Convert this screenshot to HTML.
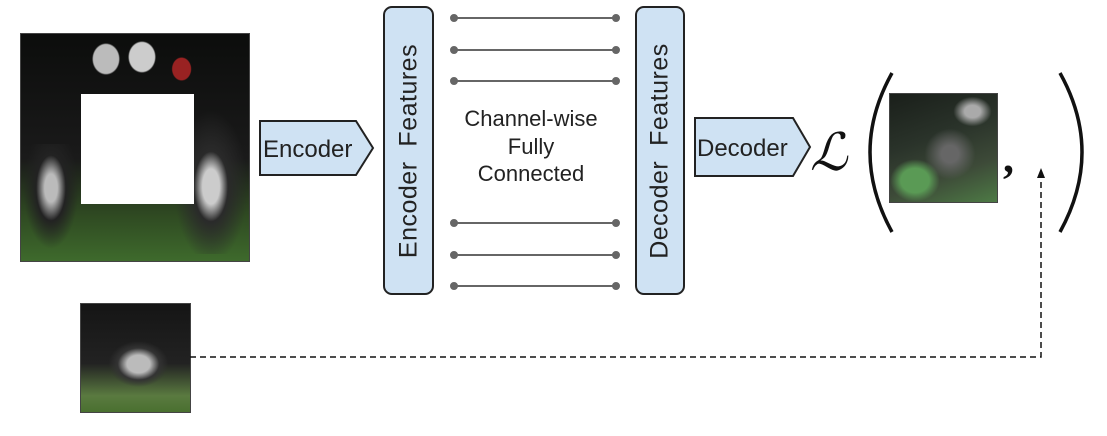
<!DOCTYPE html>
<html><head><style>
body{margin:0;background:#fff;width:1107px;height:436px;overflow:hidden;position:relative;font-family:"Liberation Sans",sans-serif}
.img{position:absolute;border:1px solid #444;overflow:hidden}
.fb{position:absolute;background:#cfe2f3;border:2px solid #222;border-radius:9px;box-sizing:border-box}
.vt{position:absolute;left:50%;top:50%;transform:translate(-50%,-50%) rotate(-90deg);font-size:25px;white-space:nowrap;color:#222;letter-spacing:0.5px}
</style></head><body>
<div class="img" style="left:20px;top:33px;width:228px;height:227px;background:linear-gradient(180deg,#0c0d0c 0%,#1a1a1a 55%,#2f4a22 80%,#3e6a2c 100%)">
 <div style="position:absolute;left:55px;top:5px;width:120px;height:100px;background:radial-gradient(ellipse 14px 16px at 25% 20%,#bbb 0 90%,transparent 100%),radial-gradient(ellipse 14px 16px at 55% 18%,#ccc 0 90%,transparent 100%),radial-gradient(ellipse 10px 12px at 88% 30%,#922 0 90%,transparent 100%)"></div>
 <div style="position:absolute;left:150px;top:70px;width:80px;height:150px;background:radial-gradient(ellipse at 50% 55%,#ccc 0 15%,#2a2a2a 30%,transparent 65%)"></div>
 <div style="position:absolute;left:0;top:110px;width:60px;height:110px;background:radial-gradient(ellipse at 50% 40%,#bbb 0 15%,#222 35%,transparent 65%)"></div>
 <div style="position:absolute;left:60px;top:60px;width:113px;height:110px;background:#fff"></div>
</div>
<div class="img" style="left:80px;top:303px;width:109px;height:108px;background:linear-gradient(180deg,#151515 0%,#222 55%,#5a7a40 85%,#4a7030 100%)">
 <div style="position:absolute;left:25px;top:35px;width:65px;height:50px;background:radial-gradient(ellipse,#bbb 0 25%,#333 45%,transparent 65%)"></div>
</div>
<svg width="1107" height="436" style="position:absolute;left:0;top:0">
 <polygon points="260,121 356,121 373,148 356,175 260,175" fill="#cfe2f3" stroke="#222" stroke-width="2"/>
 <polygon points="695,118 793,118 810,147 793,176 695,176" fill="#cfe2f3" stroke="#222" stroke-width="2"/>
 <g stroke="#666" stroke-width="2" fill="#666">
  <line x1="454" y1="18" x2="616" y2="18"/><circle cx="454" cy="18" r="3"/><circle cx="616" cy="18" r="3"/>
  <line x1="454" y1="50" x2="616" y2="50"/><circle cx="454" cy="50" r="3"/><circle cx="616" cy="50" r="3"/>
  <line x1="454" y1="81" x2="616" y2="81"/><circle cx="454" cy="81" r="3"/><circle cx="616" cy="81" r="3"/>
  <line x1="454" y1="223" x2="616" y2="223"/><circle cx="454" cy="223" r="3"/><circle cx="616" cy="223" r="3"/>
  <line x1="454" y1="255" x2="616" y2="255"/><circle cx="454" cy="255" r="3"/><circle cx="616" cy="255" r="3"/>
  <line x1="454" y1="286" x2="616" y2="286"/><circle cx="454" cy="286" r="3"/><circle cx="616" cy="286" r="3"/>
 </g>
 <path d="M190,357 H1041 V178" fill="none" stroke="#111" stroke-width="1.5" stroke-dasharray="6,4"/>
 <polygon points="1037,178 1045,178 1041,168" fill="#111"/>
 <path d="M892,73 Q848,152 892,232" fill="none" stroke="#111" stroke-width="3.5"/>
 <path d="M1060,73 Q1104,152 1060,232" fill="none" stroke="#111" stroke-width="3.5"/>
 <text x="263" y="157" font-size="24" fill="#222" font-family="Liberation Sans">Encoder</text>
 <text x="697" y="156" font-size="24" fill="#222" font-family="Liberation Sans">Decoder</text>
 <text x="531" y="126" font-size="22" fill="#222" text-anchor="middle" font-family="Liberation Sans">Channel-wise</text>
 <text x="531" y="154" font-size="22" fill="#222" text-anchor="middle" font-family="Liberation Sans">Fully</text>
 <text x="531" y="181" font-size="22" fill="#222" text-anchor="middle" font-family="Liberation Sans">Connected</text>
 <text x="810" y="170" font-size="52" font-style="italic" fill="#111" font-family="Liberation Serif">ℒ</text>
 <text x="1003" y="172" font-size="44" font-weight="bold" fill="#111" font-family="Liberation Serif">,</text>
</svg>
<div class="fb" style="left:383px;top:6px;width:51px;height:289px"><div class="vt">Encoder&nbsp; Features</div></div>
<div class="fb" style="left:635px;top:6px;width:50px;height:289px"><div class="vt">Decoder&nbsp; Features</div></div>
<div class="img" style="left:889px;top:93px;width:107px;height:108px;background:linear-gradient(160deg,#1a1f1a 0%,#2a332a 40%,#3d4a38 70%,#4d7a45 100%)">
 <div style="position:absolute;left:60px;top:0px;width:45px;height:35px;background:radial-gradient(ellipse,#aaa 0 25%,transparent 60%)"></div>
 <div style="position:absolute;left:30px;top:30px;width:60px;height:60px;background:radial-gradient(ellipse,#666 0 20%,transparent 60%)"></div>
 <div style="position:absolute;left:0;top:65px;width:50px;height:43px;background:radial-gradient(ellipse,#5a9a55 0 40%,transparent 70%)"></div>
</div>
</body></html>
